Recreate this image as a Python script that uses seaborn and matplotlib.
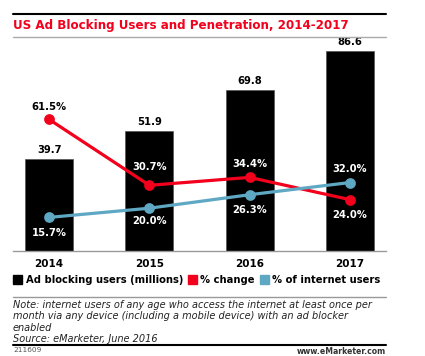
import matplotlib
matplotlib.use("Agg")
import matplotlib.pyplot as plt
import matplotlib.patches as mpatches
from matplotlib.lines import Line2D
import seaborn as sns

# data
years = ["2014", "2015", "2016", "2017"]
users_millions = [39.7, 51.9, 69.8, 86.6]
pct_change = [61.5, 30.7, 34.4, 24.0]
pct_internet = [15.7, 20.0, 26.3, 32.0]

RED = "#f2001c"
BLUE = "#5ea8c4"
W, H = 425, 356


def fx(px):
    return px / W


def fy(py):
    return 1 - py / H


def main() -> None:
    sns.set_style("white")
    plt.rcParams["font.family"] = ["DejaVu Sans"]
    plt.rcParams["text.color"] = "black"
    plt.rcParams["xtick.color"] = "black"
    fig = plt.figure(figsize=(W / 100, H / 100), dpi=100)

    ax = fig.add_axes([fx(13), fy(251), fx(386) - fx(13), fy(40) - fy(251)])
    sns.barplot(x=years, y=users_millions, color="black", width=0.48,
                edgecolor="#555555", linewidth=0.5, ax=ax)
    ax.set_ylim(0, 91.3)

    ax2 = ax.twinx()
    sns.pointplot(x=years, y=pct_change, color=RED, markers="o",
                  markersize=6, linewidth=2.3, ax=ax2)
    sns.pointplot(x=years, y=pct_internet, color=BLUE, markers="o",
                  markersize=6, linewidth=2.3, ax=ax2)
    ax2.set_ylim(0, 98.6)
    ax.set_xlim(-0.36, 3.36)

    for a in (ax, ax2):
        for s in a.spines.values():
            s.set_visible(False)
        a.set_yticks([])
        a.set_ylabel("")
        a.set_xlabel("")
    ax.spines["bottom"].set_visible(True)
    ax.spines["bottom"].set_color("#999999")
    ax.spines["bottom"].set_linewidth(1)
    ax.tick_params(axis="x", length=0, pad=6, labelcolor="black")
    ax.set_xticks(range(len(years)))
    ax.set_xticklabels(years, fontsize=7.5, fontweight="bold")
    ax2.tick_params(axis="x", length=0)

    # bar values
    for i, v in enumerate(users_millions):
        ax.annotate(f"{v:.1f}", (i, v), xytext=(0, 3), textcoords="offset points",
                    ha="center", va="bottom", fontsize=7.2, fontweight="bold",
                    color="black")

    # percent labels (offsets in points)
    change_off = [9, 13, 9.5, -11]
    inet_off = [-11, -9.5, -11, 9.5]
    for i, v in enumerate(pct_change):
        col = "black" if i == 0 else "white"
        ax2.annotate(f"{v:.1f}%", (i, v), xytext=(0, change_off[i]),
                     textcoords="offset points", ha="center", va="center",
                     fontsize=7.2, fontweight="bold", color=col)
    for i, v in enumerate(pct_internet):
        ax2.annotate(f"{v:.1f}%", (i, v), xytext=(0, inet_off[i]),
                     textcoords="offset points", ha="center", va="center",
                     fontsize=7.2, fontweight="bold", color="white")

    # title and rules
    fig.add_artist(Line2D([fx(13), fx(386)], [fy(14), fy(14)], color="black", lw=1.5))
    fig.text(fx(13), fy(25), "US Ad Blocking Users and Penetration, 2014-2017",
             color=RED, fontsize=8.6, fontweight="bold", va="center", ha="left")
    fig.add_artist(Line2D([fx(13), fx(386)], [fy(36.5), fy(36.5)], color="#aaaaaa", lw=1))

    # legend
    handles = [mpatches.Patch(color="black"), mpatches.Patch(color=RED),
               mpatches.Patch(color=BLUE)]
    labels = ["Ad blocking users (millions)", "% change", "% of internet users"]
    fig.legend(handles, labels, loc="center left", bbox_to_anchor=(fx(13), fy(280)),
               ncol=3, frameon=False, handlelength=0.9, handleheight=0.9,
               handletextpad=0.35, columnspacing=0.5, borderpad=0, borderaxespad=0,
               prop={"size": 7.2, "weight": "bold"})

    fig.add_artist(Line2D([fx(13), fx(386)], [fy(296.5), fy(296.5)], color="#999999", lw=1))
    note = ("Note: internet users of any age who access the internet at least once per\n"
            "month via any device (including a mobile device) with an ad blocker\n"
            "enabled\n"
            "Source: eMarketer, June 2016")
    fig.text(fx(13), fy(299.5), note, fontsize=7.0, style="italic", color="#222222",
             va="top", ha="left", linespacing=1.2)
    fig.add_artist(Line2D([fx(13), fx(386)], [fy(345), fy(345)], color="black", lw=1.5))
    fig.text(fx(13), fy(347.5), "211609", fontsize=5.3, color="#555555", va="top")
    fig.text(fx(386), fy(347.5), "www.eMarketer.com", fontsize=5.6, color="#333333",
             va="top", ha="right", fontweight="bold")

    fig.savefig("out.png", dpi=100, facecolor="white")


if __name__ == "__main__":
    main()
